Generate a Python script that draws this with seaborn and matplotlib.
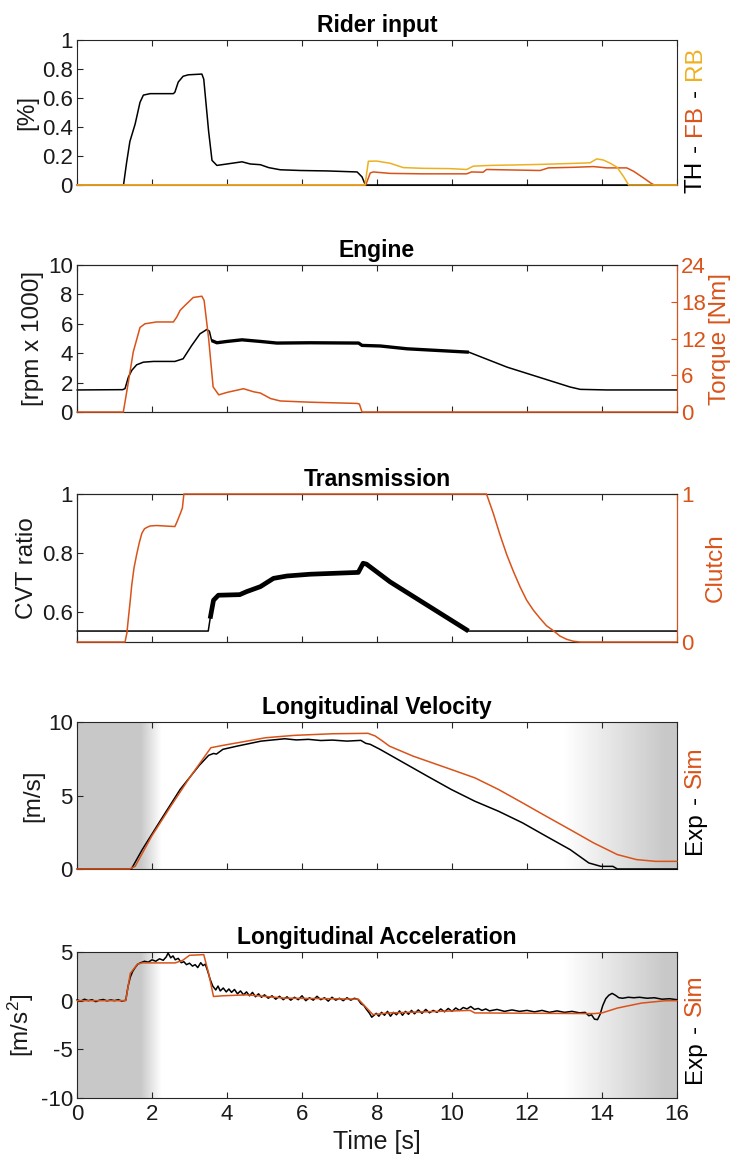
import numpy as np
import matplotlib
matplotlib.use("Agg")
import matplotlib.pyplot as plt
import seaborn as sns

# ---------------------------------------------------------------- data
# Rider input (fraction of full travel)
th_t = [0, 1.24, 1.32, 1.41, 1.55, 1.68, 1.77, 1.95, 2.57, 2.61, 2.70, 2.83, 2.97,
        3.33, 3.38, 3.51, 3.60, 3.73, 4.00, 4.40, 4.62, 4.89, 5.11, 5.42, 5.96,
        6.67, 7.47, 7.60, 7.69, 16.0]
th_v = [0, 0, 0.15, 0.30, 0.42, 0.57, 0.62, 0.63, 0.63, 0.64, 0.71, 0.75, 0.76,
        0.765, 0.73, 0.37, 0.17, 0.135, 0.145, 0.16, 0.145, 0.14, 0.12, 0.105, 0.10,
        0.097, 0.09, 0.056, 0, 0]

fb_t = [0, 7.70, 7.82, 7.90, 8.35, 9.23, 10.39, 10.52, 10.83, 10.92, 12.35, 12.57,
        13.24, 13.77, 14.13, 14.66, 14.84, 15.10, 15.32, 15.40, 16.0]
fb_v = [0, 0, 0.083, 0.09, 0.08, 0.077, 0.077, 0.09, 0.088, 0.107, 0.10, 0.118,
        0.122, 0.127, 0.118, 0.118, 0.095, 0.05, 0.01, 0, 0]

rb_t = [0, 7.68, 7.77, 7.99, 8.35, 8.70, 9.23, 9.94, 10.39, 10.57, 11.01, 11.64,
        12.35, 13.24, 13.68, 13.86, 14.04, 14.22, 14.40, 14.58, 14.71, 16.0]
rb_v = [0, 0, 0.164, 0.165, 0.15, 0.12, 0.115, 0.113, 0.107, 0.13, 0.135, 0.138,
        0.142, 0.149, 0.153, 0.18, 0.172, 0.15, 0.123, 0.056, 0, 0]

# Engine speed [rpm x 1000] and torque [Nm]
rpm_t = [0, 1.22, 1.28, 1.37, 1.46, 1.59, 1.77, 2.04, 2.61, 2.83, 3.06, 3.28, 3.46,
         3.53, 3.59, 3.73, 4.00, 4.40, 4.89, 5.33, 6.22, 7.51, 7.60, 8.09, 8.80,
         10.45, 11.47, 13.15, 13.42, 14.13, 16.0]
rpm_v = [1.5, 1.52, 1.59, 2.37, 2.83, 3.21, 3.39, 3.44, 3.44, 3.62, 4.53, 5.32, 5.61,
         5.5, 4.86, 4.71, 4.80, 4.91, 4.80, 4.69, 4.71, 4.69, 4.53, 4.49, 4.30,
         4.07, 3.05, 1.70, 1.54, 1.50, 1.50]

trq_t = [0, 1.235, 1.37, 1.50, 1.68, 1.81, 2.12, 2.57, 2.66, 2.75, 2.88, 3.10, 3.33,
         3.39, 3.51, 3.63, 3.78, 4.00, 4.44, 4.71, 4.89, 5.16, 5.42, 6.22, 7.47,
         7.53, 7.60, 16.0]
trq_v = [0, 0, 4.9, 9.8, 13.8, 14.4, 14.7, 14.7, 15.5, 16.6, 17.4, 18.7, 18.9,
         18.2, 12.0, 4.1, 2.8, 3.2, 3.8, 3.3, 3.1, 2.2, 1.8, 1.6, 1.4,
         1.3, 0, 0]

# Transmission
cvt_t = [0, 3.50, 3.55, 3.64, 3.77, 4.34, 4.52, 4.89, 5.24, 5.60, 6.22, 7.47, 7.50,
         7.63, 7.72, 8.35, 10.44, 16.0]
cvt_v = [0.537, 0.537, 0.579, 0.641, 0.658, 0.66, 0.67, 0.687, 0.715, 0.723, 0.729,
         0.735, 0.735, 0.766, 0.763, 0.703, 0.537, 0.537]

clutch_t = [0, 1.28, 1.33, 1.37, 1.42, 1.46, 1.52, 1.59, 1.66, 1.73, 1.80, 1.86,
            1.95, 2.12, 2.61, 2.67, 2.76, 2.81, 2.85, 10.92, 11.10, 11.28, 11.46,
            11.64, 11.82, 11.99, 12.17, 12.35, 12.52, 12.70, 12.88, 13.06, 13.24,
            13.42, 16.0]
clutch_v = [0, 0, 0.06, 0.16, 0.28, 0.385, 0.50, 0.59, 0.67, 0.735, 0.765, 0.774,
            0.784, 0.787, 0.78, 0.814, 0.871, 0.905, 1.0, 1.0, 0.87, 0.724, 0.59,
            0.475, 0.37, 0.283, 0.215, 0.159, 0.11, 0.077, 0.04, 0.018, 0.005,
            0, 0]

# Longitudinal velocity [m/s]
vexp_t = [0, 1.45, 1.74, 2.24, 2.75, 3.26, 3.51, 3.64, 3.72, 3.89, 4.27, 4.91, 5.54,
          5.85, 6.17, 6.5, 6.81, 7.2, 7.57, 7.7, 7.82, 8.08, 8.71, 9.34, 9.98,
          10.61, 11.24, 11.88, 12.51, 13.15, 13.65, 13.97, 14.29, 14.41, 16.0]
vexp_v = [0, 0, 1.32, 3.36, 5.41, 7.05, 7.73, 7.86, 7.82, 8.14, 8.36, 8.70, 8.86,
          8.78, 8.82, 8.74, 8.77, 8.70, 8.75, 8.55, 8.48, 8.14, 7.23, 6.32, 5.41,
          4.61, 3.93, 3.14, 2.23, 1.32, 0.41, 0.18, 0.18, 0, 0]

vsim_t = [0, 1.40, 1.55, 1.99, 2.50, 3.00, 3.57, 3.89, 4.53, 5.03, 5.79, 6.81, 7.76,
          7.95, 8.15, 8.33, 8.96, 9.98, 10.61, 11.24, 11.88, 12.51, 13.15, 13.78,
          14.41, 14.92, 15.43, 16.0]
vsim_v = [0, 0, 0.18, 2.23, 4.27, 6.20, 8.25, 8.41, 8.70, 8.93, 9.09, 9.20, 9.23,
          9.05, 8.70, 8.36, 7.68, 6.77, 6.20, 5.41, 4.50, 3.59, 2.68, 1.77, 0.98,
          0.64, 0.52, 0.52]

# Longitudinal acceleration [m/s^2]
aexp_t = [0, 0.1, 0.2, 0.3, 0.4, 0.5, 0.6, 0.7, 0.8, 0.9, 1.0, 1.1, 1.2, 1.3,
          1.36, 1.42, 1.48, 1.55, 1.62, 1.7, 1.8, 1.9, 2.0, 2.1, 2.2, 2.3, 2.38,
          2.43, 2.5, 2.56, 2.62, 2.7, 2.78, 2.85, 2.92, 3.0, 3.08, 3.15, 3.22, 3.3,
          3.36, 3.42, 3.48, 3.55, 3.62, 3.7, 3.76, 3.82, 3.9, 3.98, 4.05, 4.12, 4.2,
          4.28, 4.36, 4.44, 4.52, 4.6, 4.68, 4.76, 4.84, 4.92, 5.0, 5.1, 5.2, 5.3,
          5.4, 5.5, 5.6, 5.7, 5.8, 5.9, 6.0, 6.1, 6.2, 6.3, 6.4, 6.5, 6.6, 6.7,
          6.8, 6.9, 7.0, 7.1, 7.2, 7.3, 7.4, 7.5, 7.57, 7.65, 7.72, 7.8, 7.86,
          7.92, 7.98, 8.05, 8.12, 8.2, 8.28, 8.36, 8.44, 8.52, 8.6, 8.68, 8.76,
          8.84, 8.92, 9.0, 9.1, 9.2, 9.3, 9.4, 9.5, 9.6, 9.7, 9.8, 9.9, 10.0,
          10.1, 10.2, 10.3, 10.4, 10.5, 10.6, 10.7, 10.8, 10.9, 11.0, 11.2, 11.4,
          11.6, 11.8, 12.0, 12.2, 12.4, 12.6, 12.8, 13.0, 13.2, 13.4, 13.55,
          13.65, 13.72, 13.8, 13.88, 13.95, 14.02, 14.1, 14.18, 14.27, 14.36,
          14.45, 14.55, 14.7, 14.85, 15.0, 15.2, 15.4, 15.6, 15.8, 16.0]
aexp_v = [0.1, -0.05, 0.15, 0.0, 0.1, -0.1, 0.05, 0.12, -0.02, 0.08, 0.0, 0.1, -0.05,
          0.05, 1.44, 2.4, 2.97, 3.4, 3.75, 3.9, 4.05, 3.95, 4.2, 4.05, 4.3, 4.15,
          4.5, 4.9, 4.4, 4.6, 4.2, 4.35, 3.9, 4.0, 3.7, 3.85, 3.55, 3.7, 3.4, 3.9,
          3.6, 3.75, 3.1, 2.2, 1.5, 1.1, 1.5, 1.0, 1.3, 0.9, 1.2, 0.85, 1.15, 0.7,
          1.0, 0.6, 0.9, 0.5, 0.85, 0.4, 0.7, 0.35, 0.6, 0.25, 0.5, 0.15, 0.45,
          0.1, 0.4, 0.05, 0.35, 0.1, 0.5, 0.0, 0.3, 0.05, 0.45, 0.1, 0.3, -0.05,
          0.35, 0.05, 0.25, 0.0, 0.3, 0.05, 0.25, 0.1, -0.3, -0.5, -0.9, -1.3,
          -1.7, -1.5, -1.3, -1.6, -1.2, -1.5, -1.1, -1.6, -1.2, -1.45, -1.05, -1.5,
          -1.1, -1.4, -1.0, -1.35, -0.95, -1.3, -0.9, -1.25, -1.0, -1.2, -0.85,
          -1.15, -0.8, -1.1, -0.75, -1.0, -0.7, -0.85, -0.6, -0.9, -0.8, -1.0,
          -0.85, -1.05, -0.9, -1.1, -0.95, -1.1, -1.0, -1.15, -1.0, -1.2, -1.05,
          -1.2, -1.1, -1.25, -1.2, -1.55, -1.45, -1.9, -1.95, -1.4, -0.5, 0.2,
          0.55, 0.75, 0.55, 0.3, 0.25, 0.35, 0.3, 0.35, 0.25, 0.3, 0.15, 0.2, 0.1]

asim_t = [0, 1.30, 1.42, 1.61, 1.74, 2.62, 2.82, 3.00, 3.38, 3.51, 3.64, 3.89, 4.53,
          5.54, 7.50, 7.89, 8.33, 10.48, 10.61, 13.78, 14.00, 14.41, 15.05, 15.68,
          16.0]
asim_v = [0, 0, 2.8, 3.75, 3.88, 3.88, 4.15, 4.66, 4.73, 2.8, 0.43, 0.5, 0.6,
          0.26, 0.16, -1.43, -1.26, -1.0, -1.26, -1.33, -1.26, -0.76, -0.25, -0.01,
          0]

# Intervals where engine speed and CVT ratio oscillate (drawn as a band)
rpm_osc = (3.55, 10.45)
cvt_osc = (3.55, 10.44)

# Shaded (filtered) regions: full shade, fade limits
shade_left = (1.70, 2.25)
shade_right = (13.0, 15.7)

# ---------------------------------------------------------------- style
BLACK = "#000000"
ORANGE = "#D95319"
YELLOW = "#EDB120"
BOX = "#262626"
TXT = "#1a1a1a"

sns.set_theme(style="white")
plt.rcParams["font.family"] = ["Liberation Sans", "DejaVu Sans"]
plt.rcParams["mathtext.fontset"] = "custom"
plt.rcParams["mathtext.rm"] = "Liberation Sans"
plt.rcParams["mathtext.it"] = "Liberation Sans"
plt.rcParams["axes.unicode_minus"] = False
plt.rcParams["axes.edgecolor"] = BOX
plt.rcParams["axes.linewidth"] = 0.8

FS = 16       # tick labels
LFS = 17.5    # axis labels
TFS = 16.5    # titles
LW = 1.1

fig = plt.figure(figsize=(7.43, 11.70), dpi=100)

L, W = 77 / 743, 600 / 743
rows_px = [(40, 185), (265, 412), (494, 642), (722, 869), (952, 1098)]
axes = []
for top, bot in rows_px:
    axes.append(fig.add_axes([L, 1 - bot / 1170, W, (bot - top) / 1170]))

xt = np.arange(0, 17, 2)


def style_ax(ax, show_xlabels=False):
    ax.set_xlim(0, 16)
    ax.set_xticks(xt)
    ax.tick_params(axis="x", direction="in", length=4.5, width=0.8, top=True,
                   bottom=True, colors=BOX, labelcolor=TXT, labelsize=FS,
                   labelbottom=show_xlabels, pad=4)
    ax.tick_params(axis="y", direction="in", length=4.5, width=0.8, left=True,
                   right=False, colors=BOX, labelcolor=TXT, labelsize=FS, pad=3)
    for s in ax.spines.values():
        s.set_visible(True)
        s.set_color(BOX)
        s.set_linewidth(0.8)
    ax.set_facecolor("white")


def line(ax, t, v, color, lw=LW, z=3):
    sns.lineplot(x=np.asarray(t), y=np.asarray(v), ax=ax, color=color, lw=lw,
                 estimator=None, sort=False, zorder=z, clip_on=False)


def band(ax, t, v, lims, lw, color=BLACK):
    t = np.asarray(t)
    v = np.asarray(v)
    m = (t >= lims[0]) & (t <= lims[1])
    sns.lineplot(x=t[m], y=v[m], ax=ax, color=color, lw=lw, estimator=None,
                 sort=False, zorder=3, solid_capstyle="butt")


def stacked_label(ax, pieces, x, y0, gap=6.0):
    """Vertical multi-coloured label, read bottom to top, pieces separated by dashes."""
    prev = ax.text(x, y0, pieces[0][0], color=pieces[0][1], rotation=90,
                   transform=ax.transAxes, ha="left", va="bottom", fontsize=LFS)
    for txt, col in pieces[1:]:
        prev = ax.annotate(txt, xy=(0, 1), xycoords=prev, xytext=(0, gap),
                           textcoords="offset points", rotation=90, color=col,
                           ha="left", va="bottom", fontsize=LFS)


def shade(ax, ylo, yhi):
    xs = np.linspace(0, 16, 1600)
    a = np.zeros_like(xs)
    a = np.where(xs <= shade_left[0], 1.0, a)
    m = (xs > shade_left[0]) & (xs < shade_left[1])
    a[m] = 1 - (xs[m] - shade_left[0]) / (shade_left[1] - shade_left[0])
    m = (xs > shade_right[0]) & (xs < shade_right[1])
    a[m] = (xs[m] - shade_right[0]) / (shade_right[1] - shade_right[0])
    a = np.where(xs >= shade_right[1], 1.0, a)
    g = 1 - (1 - 0.785) * a
    img = np.repeat(g[None, :, None], 3, axis=2)
    img = np.repeat(img, 2, axis=0)
    ax.imshow(img, extent=[0, 16, ylo, yhi], aspect="auto", zorder=0,
              interpolation="bilinear", origin="lower")


# ---------------------------------------------------------------- 1. rider input
ax = axes[0]
line(ax, th_t, th_v, BLACK)
line(ax, fb_t, fb_v, ORANGE)
line(ax, rb_t, rb_v, YELLOW)
style_ax(ax)
ax.set_ylim(0, 1)
ax.set_yticks([0, 0.2, 0.4, 0.6, 0.8, 1])
ax.set_yticklabels(["0", "0.2", "0.4", "0.6", "0.8", "1"])
ax.set_ylabel("[%]", fontsize=LFS, labelpad=3, color=TXT)
ax.set_title("Rider input", fontsize=TFS, fontweight="bold", pad=6, color=BLACK)
stacked_label(ax, [("TH", BLACK), ("-", BLACK), ("FB", ORANGE), ("-", BLACK),
                   ("RB", YELLOW)], 1.012, -0.055)

# ---------------------------------------------------------------- 2. engine
ax = axes[1]
line(ax, rpm_t, rpm_v, BLACK)
band(ax, rpm_t, rpm_v, rpm_osc, 2.4)
style_ax(ax)
ax.set_ylim(0, 10)
ax.set_yticks([0, 2, 4, 6, 8, 10])
ax.set_ylabel("[rpm x 1000]", fontsize=LFS, labelpad=3, color=TXT)
ax.set_title("Engine", fontsize=TFS, fontweight="bold", pad=6, color=BLACK)
ax2 = ax.twinx()
line(ax2, trq_t, trq_v, ORANGE)
ax2.set_ylim(0, 24)
ax2.set_yticks([0, 6, 12, 18, 24])
ax2.tick_params(axis="y", direction="in", length=4.5, width=0.8, colors=ORANGE,
                labelsize=FS, right=True, left=False, pad=3)
ax2.spines["right"].set_color(ORANGE)
ax2.spines["right"].set_linewidth(0.8)
ax2.set_ylabel("Torque [Nm]", color=ORANGE, fontsize=LFS, labelpad=2)
ax2.set_xlim(0, 16)

# ---------------------------------------------------------------- 3. transmission
ax = axes[2]
line(ax, cvt_t, cvt_v, BLACK)
band(ax, cvt_t, cvt_v, cvt_osc, 3.4)
style_ax(ax)
ax.set_ylim(0.5, 1)
ax.set_yticks([0.6, 0.8, 1])
ax.set_yticklabels(["0.6", "0.8", "1"])
ax.set_ylabel("CVT ratio", fontsize=LFS, labelpad=3, color=TXT)
ax.set_title("Transmission", fontsize=TFS, fontweight="bold", pad=6, color=BLACK)
ax3 = ax.twinx()
line(ax3, clutch_t, clutch_v, ORANGE)
ax3.set_ylim(0, 1)
ax3.set_yticks([0, 1])
ax3.tick_params(axis="y", direction="in", length=4.5, width=0.8, colors=ORANGE,
                labelsize=FS, right=True, left=False, pad=3)
ax3.spines["right"].set_color(ORANGE)
ax3.spines["right"].set_linewidth(0.8)
ax3.set_ylabel("Clutch", color=ORANGE, fontsize=LFS, labelpad=8)
ax3.set_xlim(0, 16)

# ---------------------------------------------------------------- 4. velocity
ax = axes[3]
shade(ax, 0, 10)
line(ax, vexp_t, vexp_v, BLACK)
line(ax, vsim_t, vsim_v, ORANGE)
style_ax(ax)
ax.set_ylim(0, 10)
ax.set_yticks([0, 5, 10])
ax.set_ylabel("[m/s]", fontsize=LFS, labelpad=3, color=TXT)
ax.set_title("Longitudinal Velocity", fontsize=TFS, fontweight="bold", pad=6,
             color=BLACK)
stacked_label(ax, [("Exp", BLACK), ("-", BLACK), ("Sim", ORANGE)], 1.012, 0.10)

# ---------------------------------------------------------------- 5. acceleration
ax = axes[4]
shade(ax, -10, 5)
line(ax, aexp_t, aexp_v, BLACK)
line(ax, asim_t, asim_v, ORANGE)
style_ax(ax, show_xlabels=True)
ax.set_ylim(-10, 5)
ax.set_yticks([-10, -5, 0, 5])
ax.set_ylabel("[m/s$^2$]", fontsize=LFS, labelpad=3, color=TXT)
ax.set_xlabel("Time [s]", fontsize=LFS + 0.5, labelpad=4, color=TXT)
ax.set_title("Longitudinal Acceleration", fontsize=TFS, fontweight="bold", pad=6,
             color=BLACK)
stacked_label(ax, [("Exp", BLACK), ("-", BLACK), ("Sim", ORANGE)], 1.012, 0.105)

for a in fig.axes:
    leg = a.get_legend()
    if leg is not None:
        leg.remove()

fig.savefig("out.png", dpi=100, facecolor="white")
